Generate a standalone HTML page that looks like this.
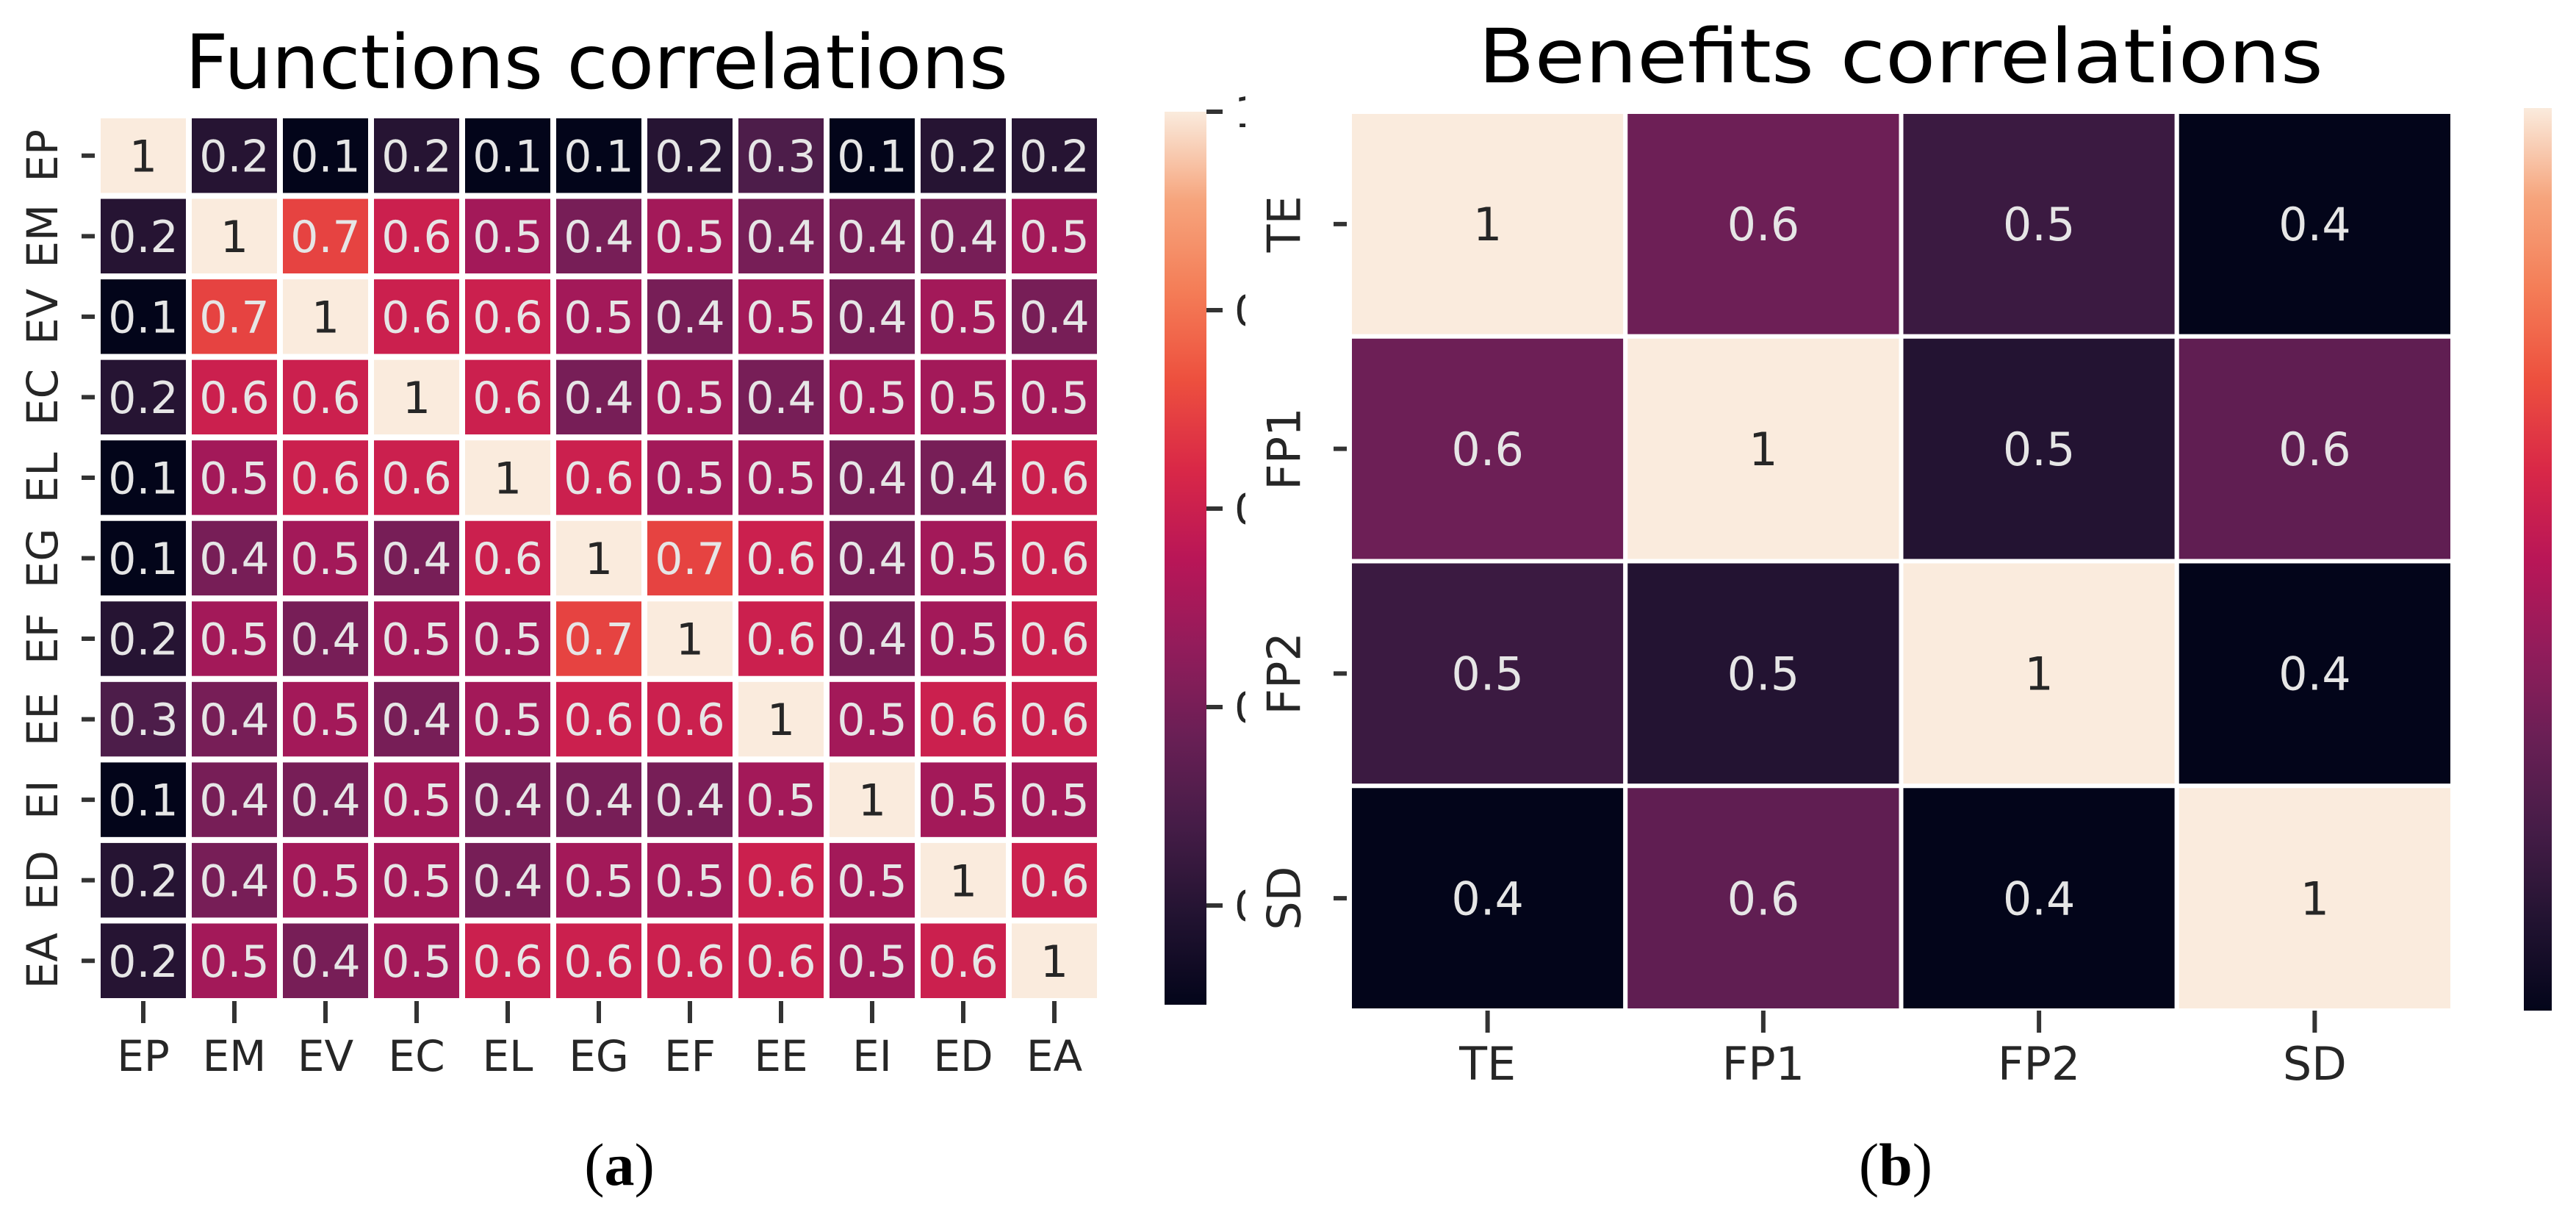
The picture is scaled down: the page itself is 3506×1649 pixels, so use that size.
<!DOCTYPE html>
<html><head><meta charset="utf-8"><style>
html,body{margin:0;padding:0;background:#fff;}
svg{display:block;}
text{font-family:"DejaVu Sans","Liberation Sans",sans-serif;}
</style></head>
<body>
<svg id="fig" xmlns="http://www.w3.org/2000/svg" width="3506" height="1649" viewBox="0 0 3506 1649">
<defs>
<linearGradient id="rocketA" x1="0" y1="1" x2="0" y2="0"></linearGradient>
<linearGradient id="rocketB" x1="0" y1="1" x2="0" y2="0"></linearGradient>
<clipPath id="cbClipA"><rect x="1640" y="100" width="55" height="1300"/></clipPath>
</defs>
<rect x="0" y="0" width="3506" height="1649" fill="#fff"/>
<g id="panelA"></g>
<g id="panelB"></g>
<text x="843" y="1612" font-family="Liberation Serif, serif" font-size="82" text-anchor="middle" fill="#000" style="font-family:'Liberation Serif',serif">(<tspan font-weight="bold">a</tspan>)</text>
<text x="2580" y="1612" font-size="82" text-anchor="middle" fill="#000" style="font-family:'Liberation Serif',serif">(<tspan font-weight="bold">b</tspan>)</text>
</svg>
<script>
const labelsA = ["EP","EM","EV","EC","EL","EG","EF","EE","EI","ED","EA"];
const valuesA = [
 [1,0.2,0.1,0.2,0.1,0.1,0.2,0.3,0.1,0.2,0.2],
 [0.2,1,0.7,0.6,0.5,0.4,0.5,0.4,0.4,0.4,0.5],
 [0.1,0.7,1,0.6,0.6,0.5,0.4,0.5,0.4,0.5,0.4],
 [0.2,0.6,0.6,1,0.6,0.4,0.5,0.4,0.5,0.5,0.5],
 [0.1,0.5,0.6,0.6,1,0.6,0.5,0.5,0.4,0.4,0.6],
 [0.1,0.4,0.5,0.4,0.6,1,0.7,0.6,0.4,0.5,0.6],
 [0.2,0.5,0.4,0.5,0.5,0.7,1,0.6,0.4,0.5,0.6],
 [0.3,0.4,0.5,0.4,0.5,0.6,0.6,1,0.5,0.6,0.6],
 [0.1,0.4,0.4,0.5,0.4,0.4,0.4,0.5,1,0.5,0.5],
 [0.2,0.4,0.5,0.5,0.4,0.5,0.5,0.6,0.5,1,0.6],
 [0.2,0.5,0.4,0.5,0.6,0.6,0.6,0.6,0.5,0.6,1]
];
const cbTicksA = [1,0.8,0.6,0.4,0.2];
const labelsB = ["TE","FP1","FP2","SD"];
const valuesB = [
 [1,0.6,0.52,0.42],
 [0.6,1,0.48,0.58],
 [0.52,0.48,1,0.42],
 [0.42,0.58,0.42,1]
];

const rocket = ["#03051A","#221331","#451C47","#691F55","#921C5B","#B91657","#D92847","#ED503E","#F47D57","#F6A47C","#FAEBDD"];
function hex2rgb(h){return [1,3,5].map(i=>parseInt(h.substr(i,2),16));}
function cmap(t){
  t=Math.max(0,Math.min(1,t));
  const p=t*10,i=Math.min(9,Math.floor(p)),f=p-i;
  const a=hex2rgb(rocket[i]),b=hex2rgb(rocket[i+1]);
  return "rgb("+a.map((v,k)=>Math.round(v+(b[k]-v)*f)).join(",")+")";
}
function lum(t){const c=hex2rgb(rocket[Math.round(Math.max(0,Math.min(1,t))*10)]);return (0.299*c[0]+0.587*c[1]+0.114*c[2])/255;}
const NS="http://www.w3.org/2000/svg";
function mk(tag,attrs,parent){const e=document.createElementNS(NS,tag);for(const k in attrs)e.setAttribute(k,attrs[k]);parent.appendChild(e);return e;}

function heatmap(g,cfg){
  const n=cfg.labels.length;
  const cw=(cfg.x1-cfg.x0)/n, ch=(cfg.y1-cfg.y0)/n;
  const xs=i=>cfg.x0+i*cw, ys=j=>cfg.y0+j*ch;
  const norm=v=>(v-cfg.vmin)/(cfg.vmax-cfg.vmin);
  const t=mk("text",{x:cfg.titleX,y:cfg.titleY,"font-size":cfg.titleSize,"text-anchor":"middle",fill:"#000",textLength:cfg.titleLen,lengthAdjust:"spacingAndGlyphs"},g);
  t.textContent=cfg.title;
  
  
  for(let r=0;r<n;r++){for(let c=0;c<n;c++){
    const v=cfg.values[r][c];
    const rect=mk("rect",{x:xs(c),y:ys(r),width:cw,height:ch,fill:cmap(norm(v)),stroke:"#fff","stroke-width":cfg.gap},g);
    
    
    const tx=mk("text",{x:xs(c)+cw/2,y:ys(r)+ch/2+cfg.annSize*0.36,"font-size":cfg.annSize,"text-anchor":"middle",fill:lum(norm(v))>0.6?"#262626":"#e6e6e6"},g);
    tx.textContent=(Math.round(v*10)/10===1)?"1":(Math.round(v*10)/10).toFixed(1);
    
    
  }}
  for(let i=0;i<n;i++){
    const cx=xs(i)+cw/2, cy=ys(i)+ch/2;
    mk("line",{x1:cx,y1:cfg.y1,x2:cx,y2:cfg.y1+30,stroke:"#333","stroke-width":6},g);
    const xl=mk("text",{x:cx,y:cfg.xLabelY,"font-size":cfg.labSize,"text-anchor":"middle",fill:"#262626"},g);
    xl.textContent=cfg.labels[i];
    
    
    mk("line",{x1:cfg.x0-22,y1:cy,x2:cfg.x0-4,y2:cy,stroke:"#333","stroke-width":6},g);
    const yl=mk("text",{x:0,y:0,"font-size":cfg.labSize,"text-anchor":"middle",fill:"#262626",transform:"translate("+(cfg.yLabelX+cfg.labSize*0.36)+","+cy+") rotate(-90)"},g);
    yl.textContent=cfg.labels[i];
    
    
  }
  // colorbar
  const grad=document.getElementById(cfg.gradId);
  for(let k=0;k<=20;k++){mk("stop",{offset:k/20,"stop-color":cmap(k/20)},grad);}
  const cb=mk("rect",{x:cfg.cbX0,y:cfg.cbY0,width:cfg.cbX1-cfg.cbX0,height:cfg.cbY1-cfg.cbY0,fill:"url(#"+cfg.gradId+")"},g);
  
  
  const cbs=v=>cfg.cbY1-(v-cfg.vmin)/(cfg.vmax-cfg.vmin)*(cfg.cbY1-cfg.cbY0);
  if(cfg.cbTicks){
    const cg=mk("g",{"clip-path":"url(#cbClipA)"},g);
    cfg.cbTicks.forEach(v=>{
      mk("line",{x1:cfg.cbX1,y1:cbs(v),x2:cfg.cbX1+22,y2:cbs(v),stroke:"#333","stroke-width":6},g);
      const tl=mk("text",{x:cfg.cbX1+38,y:cbs(v)+cfg.labSize*0.36,"font-size":cfg.labSize,fill:"#262626"},cg);
      tl.textContent=v===1?"1":v.toFixed(1);
      
      
    });
  }
}
heatmap(document.getElementById("panelA"),{
  labels:labelsA,values:valuesA,vmin:0.1,vmax:1,x0:133,x1:1497,y0:157,y1:1362,gap:8,
  title:"Functions correlations",titleX:812,titleY:120,titleSize:102,titleLen:1120,
  annSize:60,labSize:58,xLabelY:1457,yLabelX:57,
  cbX0:1585,cbX1:1642,cbY0:152,cbY1:1367,gradId:"rocketA",cbTicks:cbTicksA
});
heatmap(document.getElementById("panelB"),{
  labels:labelsB,values:valuesB,vmin:0.42,vmax:1,x0:1837,x1:3338,y0:152,y1:1375,gap:6,
  title:"Benefits correlations",titleX:2587,titleY:112,titleSize:102,titleLen:1150,
  annSize:62,labSize:62,xLabelY:1469,yLabelX:1747,
  cbX0:3435,cbX1:3473,cbY0:147,cbY1:1375,gradId:"rocketB",cbTicks:null
});
</script>
</body></html>
